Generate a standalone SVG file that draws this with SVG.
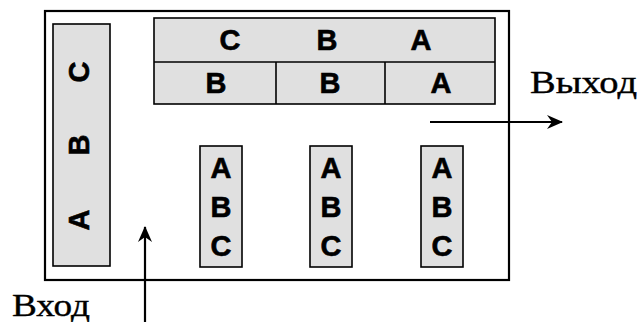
<svg xmlns="http://www.w3.org/2000/svg" width="638" height="322" viewBox="0 0 638 322">
<defs>
<style>
.box{fill:#e0e0e0;stroke:#000;stroke-width:1.6}
.lt{font-family:"Liberation Sans",Arial,sans-serif;font-weight:bold;font-size:29px;text-anchor:middle;fill:#000;stroke:#000;stroke-width:0.6}
.lbl{font-family:"Liberation Serif","Times New Roman",serif;font-size:32px;fill:#000;stroke:#000;stroke-width:0.4}
.conn{stroke:#000;stroke-width:2.2;fill:none}
</style>
<marker id="ah" viewBox="0 0 16 14" refX="15" refY="7" markerWidth="16" markerHeight="14" markerUnits="userSpaceOnUse" orient="auto">
<path d="M0,0 L16,7 L0,14 L5,7 Z" fill="#000"/>
</marker>
</defs>
<rect id="frame" x="45" y="11" width="464" height="269" fill="#fff" stroke="#000" stroke-width="2.2"/>
<g id="left-stack">
<rect class="box" x="53" y="24" width="57" height="242"/>
<text class="lt" transform="translate(89,72) rotate(-90)">C</text>
<text class="lt" transform="translate(89,145) rotate(-90)">B</text>
<text class="lt" transform="translate(89,220) rotate(-90)">A</text>
</g>
<g id="top-table">
<rect class="box" x="154" y="18" width="341" height="86"/>
<line x1="154" y1="62" x2="495" y2="62" stroke="#000" stroke-width="1.6"/>
<line x1="276" y1="62" x2="276" y2="104" stroke="#000" stroke-width="1.6"/>
<line x1="385" y1="62" x2="385" y2="104" stroke="#000" stroke-width="1.6"/>
<text class="lt" x="230" y="50">C</text>
<text class="lt" x="327" y="50">B</text>
<text class="lt" x="421" y="50">A</text>
<text class="lt" x="216" y="93">B</text>
<text class="lt" x="330" y="93">B</text>
<text class="lt" x="441" y="93">A</text>
</g>
<g id="stack1">
<rect class="box" x="200" y="146" width="42" height="121"/>
<text class="lt" x="221" y="178">A</text>
<text class="lt" x="221" y="217">B</text>
<text class="lt" x="221" y="256">C</text>
</g>
<g id="stack2">
<rect class="box" x="310" y="146" width="42" height="121"/>
<text class="lt" x="331" y="178">A</text>
<text class="lt" x="331" y="217">B</text>
<text class="lt" x="331" y="256">C</text>
</g>
<g id="stack3">
<rect class="box" x="421" y="146" width="42" height="121"/>
<text class="lt" x="442" y="178">A</text>
<text class="lt" x="442" y="217">B</text>
<text class="lt" x="442" y="256">C</text>
</g>
<g id="connectors">
<line class="conn" x1="145" y1="322" x2="145" y2="227" marker-end="url(#ah)"/>
<line class="conn" x1="430" y1="122" x2="562" y2="122" marker-end="url(#ah)"/>
</g>
<text id="label-out" class="lbl" x="530" y="93" textLength="107" lengthAdjust="spacingAndGlyphs">Выход</text>
<text id="label-in" class="lbl" x="12" y="316" textLength="78" lengthAdjust="spacingAndGlyphs">Вход</text>
</svg>
